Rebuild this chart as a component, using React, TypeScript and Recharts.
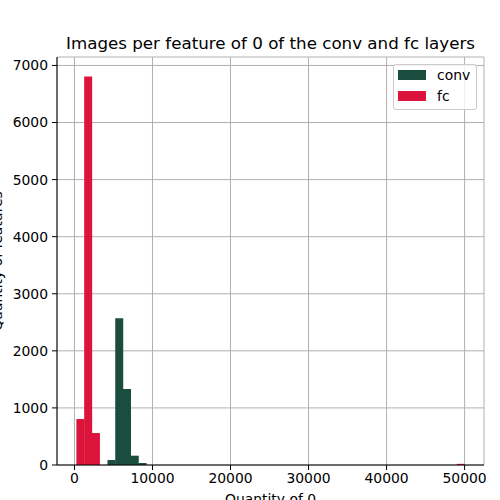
import { ComposedChart, Bar, XAxis, YAxis, CartesianGrid } from "recharts";

const binCenters = [747.5, 1742.5, 2737.5, 4727.5, 5722.5, 6717.5, 7712.5, 8707.5, 49502.5];
const convCounts = [0, 0, 0, 87, 2572, 1330, 163, 35, 0];
const fcCounts = [805, 6808, 560, 0, 0, 0, 0, 0, 20];
const seriesNames = ["conv", "fc"];
const seriesColors = ["#1b4d3e", "#dc143c"];
const xTicks = [0, 10000, 20000, 30000, 40000, 50000];
const yTicks = [0, 1000, 2000, 3000, 4000, 5000, 6000, 7000];

const FONT = "DejaVu Sans, sans-serif";
const X_DOMAIN = [-2237, 52487];
const Y_DOMAIN = [0, 7148];

const data = binCenters.map((x, i) => ({
  x,
  conv: convCounts[i],
  fc: fcCounts[i],
}));

const tickStyle = { fill: "#000", fontSize: 13.9, fontFamily: FONT };

export default function App() {
  return (
    <div style={{ position: "absolute", left: 0, top: 0, width: 500, height: 500, background: "#fff" }}>
      <ComposedChart
        width={500}
        height={500}
        data={data}
        margin={{ top: 57, right: 16, bottom: 0, left: 0 }}
        barCategoryGap={0}
        barGap={0}
      >
        <XAxis
          dataKey="x"
          type="number"
          domain={X_DOMAIN}
          ticks={xTicks}
          allowDataOverflow
          height={35}
          tickSize={5}
          tickMargin={3}
          stroke="#000"
          tick={tickStyle}
          label={{
            value: "Quantity of 0",
            position: "insideBottom",
            offset: -4,
            fill: "#000",
            fontSize: 13.9,
            fontFamily: FONT,
          }}
        />
        <XAxis
          xAxisId="top"
          orientation="top"
          type="number"
          domain={X_DOMAIN}
          allowDataOverflow
          height={0}
          tick={false}
          tickLine={false}
          stroke="#000"
        />
        <YAxis
          type="number"
          domain={Y_DOMAIN}
          ticks={yTicks}
          allowDataOverflow
          width={57}
          tickSize={5}
          tickMargin={4}
          stroke="#000"
          tick={tickStyle}
          label={{
            value: "Quantity of features",
            angle: -90,
            position: "insideLeft",
            offset: -3,
            style: { textAnchor: "middle" },
            fill: "#000",
            fontSize: 13.9,
            fontFamily: FONT,
          }}
        />
        <YAxis
          yAxisId="right"
          orientation="right"
          type="number"
          domain={Y_DOMAIN}
          allowDataOverflow
          width={0}
          tick={false}
          tickLine={false}
          stroke="#000"
        />
        <Bar dataKey="conv" stackId="h" fill={seriesColors[0]} isAnimationActive={false} />
        <Bar dataKey="fc" stackId="h" fill={seriesColors[1]} isAnimationActive={false} />
        <CartesianGrid stroke="#b0b0b0" strokeWidth={1} />
      </ComposedChart>
      <svg
        width={500}
        height={500}
        style={{ position: "absolute", left: 0, top: 0, pointerEvents: "none" }}
      >
        <text x={270.5} y={48.7} textAnchor="middle" fontSize={16.7} fontFamily={FONT} fill="#000">
          Images per feature of 0 of the conv and fc layers
        </text>
        <rect x={393.5} y={64.5} width={83} height={45} rx={2.5} fill="#fff" fillOpacity={0.8} stroke="#cccccc" />
        {seriesNames.map((name, i) => (
          <g key={name}>
            <rect x={398} y={70 + i * 21} width={28} height={10} fill={seriesColors[i]} />
            <text x={437} y={80 + i * 21} fontSize={13.9} fontFamily={FONT} fill="#000">
              {name}
            </text>
          </g>
        ))}
      </svg>
    </div>
  );
}
